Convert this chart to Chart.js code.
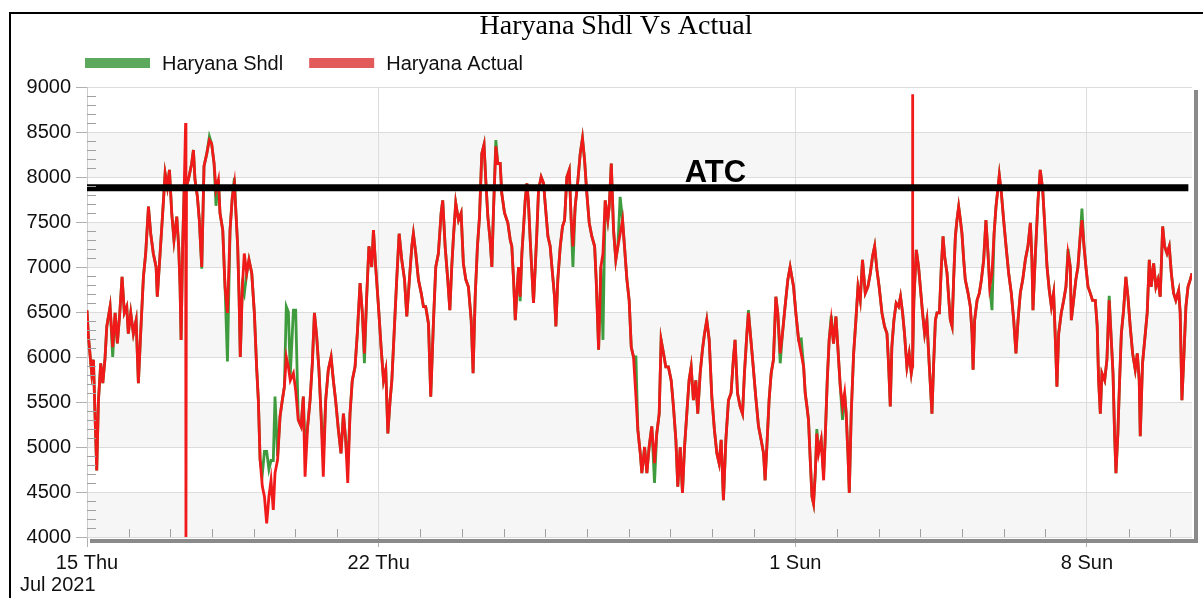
<!DOCTYPE html>
<html>
<head>
<meta charset="utf-8">
<title>Haryana Shdl Vs Actual</title>
<script src="https://cdn.jsdelivr.net/npm/chart.js@4.4.1/dist/chart.umd.min.js"></script>
<style>
  html, body { margin: 0; padding: 0; background: #fff; }
  #wrap { position: relative; width: 1203px; height: 598px; }
</style>
</head>
<body>
<div id="wrap"><canvas id="myChart"></canvas></div>
<script>
// hours since 15 Jul 2021 00:00
const hours = [
  0, 0.8, 2.7, 3.7, 4.6, 5.6, 6.6, 7.9, 9.1, 10.4,
  11.4, 13.3, 14.8, 16.2, 17.5, 19.0, 20.2, 21.5, 22.9, 23.8,
  25.2, 26.7, 28.3, 29.6, 30.9, 32.5, 33.8, 35.4, 36.7, 38.2,
  39.8, 40.5, 42.1, 43.6, 45.0, 46.3, 47.5, 48.8, 50.1, 51.7,
  52.8, 53.6, 54.2, 55.1, 56.1, 56.8, 57.0, 57.3, 58.4, 60.3,
  61.3, 62.2, 63.6, 64.7, 66.1, 67.4, 69.0, 70.5, 71.8, 73.2,
  74.3, 75.7, 76.6, 78.2, 79.5, 80.9, 82.4, 83.7, 84.9, 85.8,
  86.8, 87.6, 88.3, 89.5, 90.6, 92.0, 93.3, 94.9, 96.4, 97.7,
  98.7, 99.7, 101.0, 102.2, 103.5, 104.8, 106.0, 107.3, 108.3, 109.8,
  111.2, 112.5, 113.7, 114.8, 116.0, 117.1, 118.9, 120.2, 121.7, 123.3,
  124.6, 125.6, 127.1, 128.5, 129.8, 131.0, 132.3, 133.6, 134.8, 136.1,
  137.5, 139.0, 140.6, 141.9, 143.2, 144.8, 146.3, 147.7, 149.0, 150.2,
  151.5, 152.8, 154.4, 155.7, 157.3, 158.6, 159.8, 161.1, 162.4, 164.0,
  165.0, 166.3, 167.9, 169.4, 170.8, 172.1, 173.3, 174.6, 175.6, 177.1,
  178.4, 179.8, 181.3, 182.9, 184.2, 185.7, 187.1, 188.0, 189.4, 190.9,
  192.5, 193.8, 195.1, 196.7, 198.0, 199.6, 200.9, 202.4, 204.0, 204.9,
  206.3, 207.8, 209.0, 210.1, 211.1, 212.4, 214.0, 215.5, 216.8, 218.2,
  219.7, 221.3, 222.4, 223.6, 224.9, 226.1, 227.4, 228.7, 229.7, 230.9,
  232.2, 233.2, 234.1, 235.5, 236.6, 238.0, 238.9, 240.5, 242.4, 243.8,
  244.7, 245.7, 246.7, 247.6, 248.6, 249.5, 250.5, 251.5, 252.4, 253.4,
  254.3, 255.3, 256.3, 257.2, 258.2, 259.1, 260.1, 261.6, 263.0, 263.9,
  265.5, 266.8, 267.8, 269.3, 270.1, 271.2, 272.6, 273.9, 275.1, 276.4,
  277.8, 278.9, 279.9, 281.2, 282.8, 284.1, 285.4, 286.6, 287.9, 289.3,
  290.8, 292.4, 293.3, 294.7, 296.0, 297.2, 298.5, 300.0, 300.8, 302.0,
  303.3, 304.6, 305.8, 307.1, 308.5, 309.6, 311.0, 312.3, 313.5, 314.8,
  316.2, 317.3, 318.7, 319.6, 321.2, 322.5, 323.8, 325.3, 326.9, 328.2,
  329.6, 330.7, 332.1, 333.4, 334.9, 336.5, 337.8, 339.2, 340.3, 341.7,
  343.0, 344.2, 345.5, 346.8, 348.0, 349.3, 350.7, 351.8, 353.2, 354.5,
  355.7, 357.0, 358.4, 359.9, 361.4, 362.8, 364.1, 365.3, 366.6, 368.0,
  369.5, 371.0, 372.4, 373.3, 374.7, 376.2, 377.6, 378.7, 380.1, 381.0,
  382.6, 383.9, 385.2, 386.8, 388.3, 389.7, 390.6, 391.6, 392.9, 394.1,
  395.4, 396.8, 397.9, 399.3, 400.6, 402.1, 403.7, 405.0, 407.0, 408.3,
  409.9, 411.4, 412.8, 413.7, 414.7, 415.6, 416.6, 417.6, 418.5, 419.5,
  420.4, 421.4, 422.9, 424.3, 425.2, 426.4, 427.5, 428.7, 430.0, 431.4,
  432.5, 433.9, 435.2, 436.4, 437.3, 438.3, 439.1, 440.2, 441.6, 442.9,
  444.1, 445.4, 446.7, 448.3, 449.8, 451.2, 452.5, 453.7, 455.0, 456.3,
  457.9, 459.4, 460.8, 461.7, 462.7, 463.6, 464.8, 466.1, 467.5, 468.6,
  469.8, 470.9, 472.3, 473.6, 474.8, 475.4, 475.5, 475.7, 476.3, 477.7,
  479.0, 480.0, 481.3, 482.5, 483.8, 485.1, 486.7, 487.7, 488.7, 489.6,
  491.0, 492.1, 493.1, 494.0, 495.4, 496.3, 497.3, 498.3, 499.2, 500.2,
  501.1, 502.1, 503.1, 504.0, 505.0, 505.9, 507.5, 508.8, 509.8, 510.4,
  511.3, 512.7, 514.0, 515.2, 516.5, 517.8, 519.0, 520.0, 521.3, 522.5,
  523.6, 524.8, 525.5, 526.7, 528.0, 529.4, 530.9, 532.4, 533.8, 535.1,
  536.3, 537.6, 539.0, 540.5, 542.0, 543.4, 544.3, 544.9, 546.3, 547.8,
  549.1, 550.5, 551.6, 553.0, 554.3, 555.5, 556.8, 557.8, 558.7, 559.7,
  561.2, 562.6, 563.9, 565.1, 566.4, 567.0, 568.3, 569.6, 570.8, 572.1,
  573.1, 574.3, 575.4, 576.6, 577.9, 579.2, 580.8, 581.9, 582.7, 583.7,
  584.6, 586.2, 587.5, 588.8, 590.0, 591.0, 591.9, 592.7, 593.8, 594.8,
  595.8, 597.1, 598.4, 599.6, 600.9, 602.3, 603.8, 605.0, 606.1, 606.7,
  608.0, 609.6, 610.7, 611.9, 613.0, 614.4, 615.7, 616.9, 618.2, 619.6,
  620.7, 622.1, 623.4, 624.6, 625.9, 627.2, 628.8, 629.7, 630.7, 631.9,
  633.0, 634.2, 635.5, 636.5
];

const actual = [
  6520, 6230, 5820, 5970, 5370, 4740, 5520, 5930, 5710, 5990,
  6340, 6560, 6110, 6490, 6150, 6520, 6890, 6490, 6560, 6260,
  6490, 6260, 6410, 5710, 6260, 6890, 7150, 7670, 7370, 7150,
  7000, 6670, 7150, 7600, 8040, 7890, 8080, 7600, 7300, 7560,
  7230, 6780, 6190, 7230, 7970, 8600, 4000, 7900, 7970, 8150,
  8300, 7970, 7780, 7520, 7000, 8120, 8260, 8410, 8370, 8150,
  7860, 7970, 7600, 7410, 6780, 6490, 7410, 7780, 7930, 7600,
  7230, 6670, 6000, 6780, 7150, 6930, 7080, 6930, 6490, 5890,
  5520, 4860, 4560, 4450, 4150, 4450, 4630, 4300, 4710, 4860,
  5340, 5520, 5670, 6000, 5890, 5740, 5820, 5630, 5300, 5230,
  5560, 4670, 5230, 5520, 5930, 6490, 6230, 5860, 5370, 4670,
  5520, 5860, 6000, 5740, 5520, 5190, 4930, 5370, 5080, 4600,
  5370, 5740, 5890, 6260, 6820, 6490, 6040, 6670, 7230, 7000,
  7410, 7000, 6560, 6110, 5740, 5860, 5150, 5520, 5740, 6340,
  6860, 7370, 7080, 6860, 6450, 6860, 7230, 7370, 7150, 6860,
  6710, 6560, 6560, 6370, 5560, 6410, 7000, 7150, 7600, 7740,
  7230, 6860, 6520, 7000, 7340, 7710, 7520, 7600, 7040, 6860,
  6780, 6410, 5820, 6670, 7230, 7560, 8260, 8360, 7970, 7560,
  7300, 7000, 7600, 8340, 8150, 8150, 7820, 7600, 7490, 7300,
  7230, 6860, 6410, 6710, 7000, 6670, 7150, 7450, 7740, 7930,
  7710, 7300, 6930, 6600, 7000, 7370, 7860, 8000, 7930, 7710,
  7340, 7230, 7000, 6670, 6340, 6860, 7230, 7450, 7520, 8000,
  8080, 7520, 7230, 7670, 7970, 8260, 8430, 8190, 7820, 7490,
  7340, 7230, 6860, 6080, 7000, 7150, 7740, 7520, 7670, 8150,
  7410, 7080, 7230, 7370, 7520, 7230, 6860, 6630, 6110, 6000,
  5560, 5190, 4930, 4710, 5000, 4710, 5000, 5230, 4820, 5150,
  5370, 6190, 6040, 5890, 5890, 5740, 5450, 5080, 4560, 5000,
  4490, 5000, 5370, 5740, 5890, 5520, 5740, 5370, 5820, 6080,
  6260, 6410, 6190, 5560, 5190, 4930, 4820, 5080, 4410, 5080,
  5520, 5600, 6000, 6190, 5600, 5450, 5370, 5820, 6260, 6490,
  6150, 5860, 5560, 5230, 5080, 4930, 4630, 5000, 5520, 5820,
  5970, 6670, 6490, 6040, 6260, 6560, 6860, 7000, 6780, 6490,
  6190, 6040, 5890, 5600, 5450, 5300, 4860, 4450, 4370, 4710,
  5150, 4930, 5080, 4630, 5080, 5740, 6190, 6410, 6150, 6450,
  6110, 5670, 5450, 5600, 5370, 4930, 4490, 5370, 6040, 6410,
  6780, 6630, 7080, 6710, 6780, 6930, 7120, 7230, 6970, 6780,
  6490, 6340, 6260, 5930, 5450, 6110, 6410, 6600, 6560, 6670,
  6490, 6260, 5890, 6040, 5820, 5900, 8920, 6000, 6630, 7190,
  7000, 6780, 6490, 6260, 6410, 5930, 5370, 5930, 6410, 6490,
  6490, 7000, 7340, 7120, 6930, 6670, 6410, 6340, 6860, 7340,
  7520, 7670, 7520, 7370, 7080, 6860, 6710, 6560, 6260, 5860,
  6410, 6630, 6710, 6860, 7080, 7520, 7150, 6780, 6930, 7370,
  7670, 7890, 8020, 7820, 7520, 7230, 6930, 6710, 6410, 6040,
  6410, 6710, 6860, 7080, 7230, 7490, 7080, 6520, 7150, 7740,
  8080, 7860, 7490, 7000, 6740, 6560, 6710, 6190, 5670, 6260,
  6490, 6630, 6780, 7150, 7000, 6410, 6630, 6860, 7000, 7340,
  7520, 7230, 7000, 6780, 6710, 6630, 6630, 6340, 5740, 5370,
  5820, 5740, 5970, 6630, 6190, 5820, 5150, 4710, 5150, 5740,
  6260, 6520, 6890, 6670, 6340, 6040, 5860, 6040, 5740, 5120,
  5930, 6260, 6490, 7080, 6780, 7040, 6780, 6860, 6670, 7450,
  7230, 7150, 7230, 6930, 6710, 6630, 6740, 6490, 5520, 6040,
  6560, 6780, 6860, 6930
];

const shdl = [
  6520, 6230, 5820, 5970, 5370, 4740, 5520, 5930, 5710, 5990,
  6340, 6560, 6000, 6490, 6150, 6520, 6890, 6490, 6560, 6260,
  6490, 6260, 6410, 5710, 6260, 6890, 7150, 7670, 7370, 7150,
  7000, 6670, 7150, 7600, 8040, 7890, 8080, 7600, 7300, 7560,
  7230, 6780, 6190, 7230, 7970, 7970, 7970, 7900, 7970, 8150,
  8300, 7970, 7780, 7520, 6980, 8120, 8260, 8450, 8370, 8150,
  7680, 7970, 7600, 7410, 6780, 5950, 7410, 7780, 7990, 7600,
  7230, 6670, 6000, 6780, 6700, 6930, 7080, 6930, 6490, 5890,
  5520, 4860, 4700, 4950, 4950, 4750, 4850, 4850, 5560, 4900,
  5340, 5520, 5670, 6560, 6500, 5800, 6520, 6520, 5300, 5230,
  5560, 5000, 5230, 5520, 5930, 6490, 6230, 5860, 5370, 4900,
  5520, 5860, 6000, 5740, 5520, 5190, 4930, 5370, 5080, 4800,
  5370, 5740, 5890, 6260, 6820, 6490, 5930, 6670, 7230, 7000,
  7410, 7000, 6560, 6110, 5740, 5860, 5150, 5520, 5740, 6340,
  6860, 7370, 7080, 6860, 6450, 6860, 7230, 7370, 7150, 6860,
  6710, 6560, 6560, 6370, 5560, 6410, 7000, 7150, 7600, 7740,
  7230, 6860, 6520, 7000, 7340, 7710, 7520, 7600, 7040, 6860,
  6780, 6410, 5820, 6670, 7230, 7560, 8260, 8360, 7970, 7560,
  7300, 7000, 7600, 8410, 8150, 8150, 7820, 7600, 7490, 7300,
  7230, 6860, 6410, 6710, 7000, 6620, 7150, 7450, 7740, 7930,
  7710, 7300, 6930, 6600, 7000, 7370, 7860, 8000, 7930, 7710,
  7340, 7230, 7000, 6670, 6340, 6860, 7230, 7450, 7520, 8000,
  8080, 7520, 7000, 7670, 7970, 8260, 8430, 8190, 7820, 7490,
  7340, 7230, 6860, 6080, 7000, 6190, 7740, 7520, 7670, 8150,
  7410, 7080, 7230, 7780, 7520, 7230, 6860, 6630, 6110, 6000,
  6000, 5190, 4930, 4710, 5000, 4710, 5000, 5230, 4600, 5150,
  5370, 6190, 6040, 5890, 5890, 5740, 5450, 5080, 4560, 5000,
  4490, 5000, 5370, 5740, 5890, 5520, 5740, 5370, 5820, 6080,
  6260, 6410, 6190, 5560, 5190, 4930, 4820, 5080, 4410, 5080,
  5520, 5600, 6000, 6190, 5600, 5450, 5370, 5820, 6260, 6520,
  6150, 5860, 5560, 5230, 5080, 4930, 4630, 5000, 5520, 5820,
  5970, 6670, 6490, 5930, 6260, 6560, 6860, 7000, 6780, 6490,
  6190, 6200, 5890, 5600, 5450, 5300, 4860, 4450, 4370, 4710,
  5200, 4950, 5080, 4700, 5080, 5740, 6190, 6460, 6150, 6450,
  6110, 5670, 5300, 5600, 5370, 4930, 4490, 5370, 6040, 6410,
  6780, 6630, 7080, 6710, 6780, 6930, 7120, 7230, 6970, 6780,
  6490, 6340, 6260, 5930, 5450, 6110, 6410, 6600, 6560, 6670,
  6490, 6260, 5890, 6040, 5820, 5900, 5900, 6000, 6630, 7190,
  7000, 6780, 6490, 6260, 6410, 5930, 5370, 5930, 6410, 6490,
  6490, 7000, 7340, 7120, 6930, 6670, 6410, 6340, 6860, 7340,
  7520, 7670, 7520, 7370, 7080, 6860, 6710, 6560, 6260, 5860,
  6410, 6630, 6710, 6860, 7080, 7520, 7150, 6780, 6520, 7370,
  7670, 7890, 8020, 7820, 7520, 7230, 6930, 6710, 6410, 6040,
  6410, 6710, 6860, 7080, 7230, 7490, 7080, 6520, 7150, 7740,
  8080, 7860, 7490, 7000, 6740, 6560, 6710, 6190, 5670, 6260,
  6490, 6630, 6780, 7200, 7000, 6410, 6630, 6860, 7000, 7340,
  7650, 7230, 7000, 6780, 6710, 6630, 6630, 6340, 5740, 5370,
  5820, 5740, 5970, 6680, 6190, 5820, 5150, 4710, 5150, 5740,
  6260, 6520, 6890, 6670, 6340, 6040, 5860, 6040, 5740, 5120,
  5930, 6260, 6490, 7080, 6780, 7040, 6780, 6860, 6670, 7450,
  7230, 7150, 7230, 6930, 6710, 6630, 6740, 6490, 5520, 6040,
  6560, 6780, 6860, 6930
];

const atcValue = 7880;
const atcHours = [0, 634.4];
const atcLabelHour = 362;

const majorHours = [0, 168, 408, 576];
const majorLabels = ['15 Thu', '22 Thu', '1 Sun', '8 Sun'];
const monthLabel = 'Jul 2021';
const bandStarts = [4000, 5000, 6000, 7000, 8000];

const FONT = '"Liberation Sans", Arial, sans-serif';

if (hours.length !== actual.length || hours.length !== shdl.length) {
  console.error('length mismatch', hours.length, actual.length, shdl.length);
}

const decor = {
  id: 'decor',
  beforeDraw(chart) {
    const {ctx, chartArea: a, scales: {y}} = chart;
    ctx.save();
    ctx.fillStyle = '#ffffff';
    ctx.fillRect(0, 0, chart.width, chart.height);
    ctx.fillStyle = '#f6f6f6';
    bandStarts.forEach(b => {
      const top = y.getPixelForValue(b + 500);
      const bot = y.getPixelForValue(b);
      ctx.fillRect(a.left, top, a.right - a.left, bot - top);
    });
    ctx.restore();
  },
  afterDraw(chart) {
    const {ctx, chartArea: a, scales: {x, y}} = chart;
    ctx.save();

    // minor ticks inside the plot
    ctx.strokeStyle = '#a0a0a0';
    ctx.lineWidth = 1;
    ctx.beginPath();
    for (let v = 4100; v < 9000; v += 100) {
      if (v % 500 === 0) continue;
      const py = Math.round(y.getPixelForValue(v)) + 0.5;
      ctx.moveTo(a.left, py);
      ctx.lineTo(a.left + 9, py);
    }
    for (let h = 24; h < x.max; h += 24) {
      if (majorHours.includes(h)) continue;
      const px = Math.round(x.getPixelForValue(h)) + 0.5;
      ctx.moveTo(px, a.bottom);
      ctx.lineTo(px, a.bottom - 8);
    }
    ctx.stroke();

    // frame shadow
    ctx.fillStyle = '#8a8a8a';
    ctx.fillRect(a.left + 3, a.bottom + 2, a.right - a.left + 3, 4);
    ctx.fillRect(a.right + 2, a.top + 3, 4, a.bottom - a.top + 3);

    // ATC label
    ctx.fillStyle = '#000';
    ctx.font = 'bold 31px ' + FONT;
    ctx.textAlign = 'center';
    ctx.textBaseline = 'alphabetic';
    ctx.fillText('ATC', x.getPixelForValue(atcLabelHour), y.getPixelForValue(atcValue) - 6);

    // title
    ctx.font = '28px "Liberation Serif", "Times New Roman", serif';
    ctx.textBaseline = 'middle';
    ctx.fillText('Haryana Shdl Vs Actual', 616, 27);

    // legend
    ctx.font = '20px ' + FONT;
    ctx.textAlign = 'left';
    let lx = 85;
    [chart.data.datasets[2], chart.data.datasets[1]].forEach(ds => {
      ctx.fillStyle = ds.backgroundColor;
      ctx.fillRect(lx, 58, 65, 10);
      ctx.fillStyle = '#111';
      ctx.fillText(ds.label, lx + 77, 64);
      lx += 77 + ctx.measureText(ds.label).width + 26;
    });

    // month label under the first tick
    ctx.fillText(monthLabel, 20, 585);

    // outer border
    ctx.strokeStyle = '#000';
    ctx.lineWidth = 2;
    ctx.beginPath();
    ctx.moveTo(10, 598);
    ctx.lineTo(10, 13);
    ctx.lineTo(1203, 13);
    ctx.stroke();
    ctx.restore();
  }
};

const ctx = document.getElementById('myChart').getContext('2d');
const myChart = new Chart(ctx, {
  type: 'line',
  data: {
    datasets: [
      {
        label: 'ATC',
        data: atcHours.map(h => ({x: h, y: atcValue})),
        borderColor: '#000000',
        borderWidth: 7,
        pointRadius: 0
      },
      {
        label: 'Haryana Actual',
        data: hours.map((h, i) => ({x: h, y: actual[i]})),
        borderColor: '#f01a1a',
        backgroundColor: '#e25a5a',
        borderWidth: 2.8,
        pointRadius: 0,
        tension: 0
      },
      {
        label: 'Haryana Shdl',
        data: hours.map((h, i) => ({x: h, y: shdl[i]})),
        borderColor: '#3e9c3e',
        backgroundColor: '#5ca85c',
        borderWidth: 2.8,
        pointRadius: 0,
        tension: 0
      }
    ]
  },
  options: {
    responsive: true,
    maintainAspectRatio: false,
    animation: false,
    events: [],
    layout: { padding: { top: 87, right: 11, bottom: 0, left: 0 } },
    plugins: {
      legend: { display: false },
      title: { display: false },
      tooltip: { enabled: false }
    },
    scales: {
      x: {
        type: 'linear',
        min: 0,
        max: 636.5,
        afterFit: s => { s.height = 61; },
        border: { display: false },
        grid: {
          color: c => (c.tick && majorHours.includes(c.tick.value)) ? '#dcdcdc' : 'rgba(0,0,0,0)',
          tickColor: c => (c.tick && majorHours.includes(c.tick.value)) ? '#b0b0b0' : 'rgba(0,0,0,0)',
          tickLength: 10
        },
        ticks: {
          stepSize: 24,
          autoSkip: false,
          maxRotation: 0,
          padding: 4,
          color: '#111',
          font: { size: 20, family: FONT },
          callback: v => {
            const k = majorHours.indexOf(v);
            return k >= 0 ? majorLabels[k] : '';
          }
        }
      },
      y: {
        min: 4000,
        max: 9000,
        afterFit: s => { s.width = 87; },
        border: { color: '#cccccc' },
        grid: { color: '#dcdcdc', tickColor: '#b0b0b0', tickLength: 11 },
        ticks: {
          stepSize: 500,
          padding: 5,
          color: '#111',
          font: { size: 20, family: FONT },
          callback: v => String(v)
        }
      }
    }
  },
  plugins: [decor]
});
</script>
</body>
</html>
